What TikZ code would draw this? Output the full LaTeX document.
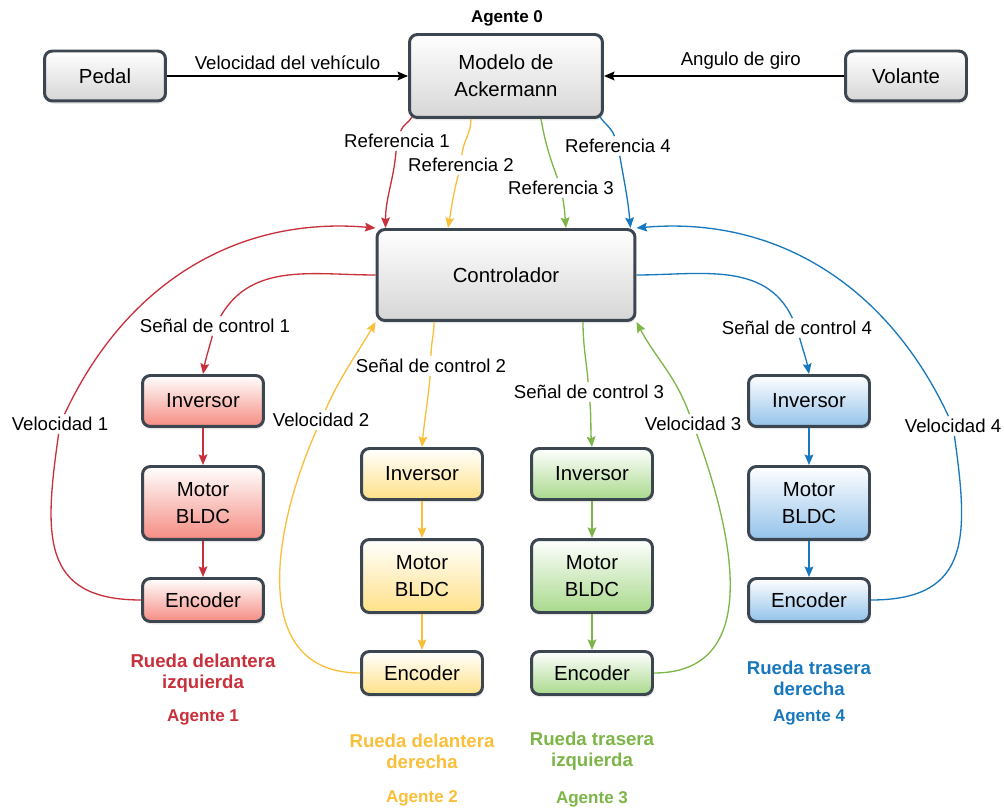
\documentclass[tikz,border=0pt]{standalone}
\usepackage{fontspec}
\setmainfont{Liberation Sans}
\usetikzlibrary{arrows.meta,calc,shadows}

\definecolor{boxborder}{HTML}{3C4651}
\definecolor{boxgray}{HTML}{D6D6D6}
\definecolor{wheelred}{HTML}{C8303C}
\definecolor{wheelyellow}{HTML}{F9BF3B}
\definecolor{wheelgreen}{HTML}{7DB548}
\definecolor{wheelblue}{HTML}{1878BE}
\definecolor{fillred}{HTML}{F58C82}
\definecolor{fillyellow}{HTML}{FFE188}
\definecolor{fillgreen}{HTML}{A9D98C}
\definecolor{fillblue}{HTML}{93C2EA}

\begin{document}
\begin{tikzpicture}[x=0.02cm,y=0.02cm]
  % Define styles for nodes
  \tikzstyle{box} = [draw=boxborder, rectangle, rounded corners=4.5pt,
  line width=1.7pt, minimum width=2.42cm, align=center,
  font=\fontsize{11.6}{15.3}\selectfont,
  drop shadow={opacity=0.18, shadow xshift=0.6pt, shadow yshift=-1.6pt}]
  \tikzstyle{graybox} = [box, top color=white, bottom color=boxgray]
  \tikzstyle{redbox} = [box, top color=white, bottom color=fillred]
  \tikzstyle{yellowbox} = [box, top color=white, bottom color=fillyellow]
  \tikzstyle{greenbox} = [box, top color=white, bottom color=fillgreen]
  \tikzstyle{bluebox} = [box, top color=white, bottom color=fillblue]
  \tikzstyle{inv} = [minimum height=1.02cm]
  \tikzstyle{motor} = [minimum height=1.46cm]
  \tikzstyle{enc} = [minimum height=0.86cm]
  \tikzstyle{edgetext} = [inner sep=1.5pt, font=\fontsize{10.6}{12}\selectfont]
  \tikzstyle{wheeltext} = [align=center, font=\bfseries\fontsize{10.6}{11.9}\selectfont]
  \tikzstyle{agenttext} = [font=\bfseries\fontsize{9.7}{11}\selectfont]
  \tikzstyle{flow} = [line width=0.75pt, -{Stealth[length=6pt,width=5pt,inset=1pt]}]

  \useasboundingbox (0,0) rectangle (1004,-810);

  % Top row
  \node[graybox, minimum height=1.0cm] (pedal) at (105,-76) {Pedal};
  \node[graybox, minimum width=3.86cm, minimum height=1.66cm] (modelo) at (506,-76) {Modelo de\\Ackermann};
  \node[graybox, minimum height=1.0cm] (volante) at (906,-76) {Volante};
  \node[agenttext] (agente0) at (507,-18) {Agente 0};

  % Controller
  \node[graybox, minimum width=5.16cm, minimum height=1.82cm] (ctrl) at (506,-275) {Controlador};

  % Front left wheel
  \node[redbox, inv] (inv1) at (203,-401) {Inversor};
  \node[redbox, motor] (mot1) at (203,-503) {Motor\\BLDC};
  \node[redbox, enc] (enc1) at (203,-600) {Encoder};
  \node[wheeltext, wheelred] (rueda1) at (203,-673) {Rueda delantera\\izquierda};
  \node[agenttext, wheelred] (agente1) at (203,-717) {Agente 1};

  % Front right wheel
  \node[yellowbox, inv] (inv2) at (422,-474) {Inversor};
  \node[yellowbox, motor] (mot2) at (422,-576) {Motor\\BLDC};
  \node[yellowbox, enc] (enc2) at (422,-673) {Encoder};
  \node[wheeltext, wheelyellow] (rueda2) at (422,-751) {Rueda delantera\\derecha};
  \node[agenttext, wheelyellow] (agente2) at (422,-798) {Agente 2};

  % Rear left wheel
  \node[greenbox, inv] (inv3) at (592,-474) {Inversor};
  \node[greenbox, motor] (mot3) at (592,-576) {Motor\\BLDC};
  \node[greenbox, enc] (enc3) at (592,-673) {Encoder};
  \node[wheeltext, wheelgreen] (rueda3) at (592,-751) {Rueda trasera\\izquierda};
  \node[agenttext, wheelgreen] (agente3) at (592,-799) {Agente 3};

  % Rear right wheel
  \node[bluebox, inv] (inv4) at (809,-401) {Inversor};
  \node[bluebox, motor] (mot4) at (809,-503) {Motor\\BLDC};
  \node[bluebox, enc] (enc4) at (809,-600) {Encoder};
  \node[wheeltext, wheelblue] (rueda4) at (809,-678) {Rueda trasera\\derecha};
  \node[agenttext, wheelblue] (agente4) at (809,-717) {Agente 4};

  % Edge labels
  \node[edgetext] (ref1) at (397,-141) {Referencia 1};
  \node[edgetext] (ref2) at (461,-165) {Referencia 2};
  \node[edgetext] (ref3) at (561,-188) {Referencia 3};
  \node[edgetext] (ref4) at (618,-146) {Referencia 4};
  \node[edgetext] (sen1) at (215,-326) {Señal de control 1};
  \node[edgetext] (sen2) at (431,-366) {Señal de control 2};
  \node[edgetext] (sen3) at (589,-392) {Señal de control 3};
  \node[edgetext] (sen4) at (797,-328) {Señal de control 4};
  \node[edgetext] (vel1) at (60,-424) {Velocidad 1};
  \node[edgetext] (vel2) at (321,-420) {Velocidad 2};
  \node[edgetext] (vel3) at (693,-424) {Velocidad 3};
  \node[edgetext] (vel4) at (953,-426) {Velocidad 4};

  % Inputs of the Ackermann model
  \draw[flow] (pedal) -- node[edgetext, above=2pt] {Velocidad del vehículo} (modelo);
  \draw[flow] (volante) -- node[edgetext, above=2pt, pos=0.43] {Angulo de giro} (modelo);

  % References
  \draw[flow, wheelred] ($(modelo.south west)+(4,2)$) to[out=-120,in=70] (ref1)
    to[out=-95,in=90] ($(ctrl.north west)+(10,0)$);
  \draw[flow, wheelyellow] ($(modelo.south)+(-35,0)$) to[out=-90,in=85] (ref2)
    to[out=-105,in=80] ($(ctrl.north)+(-58,0)$);
  \draw[flow, wheelgreen] ($(modelo.south)+(35,0)$) to[out=-80,in=110] (ref3)
    to[out=-80,in=95] ($(ctrl.north)+(60,0)$);
  \draw[flow, wheelblue] ($(modelo.south east)+(-4,2)$) to[out=-55,in=110] (ref4)
    to[out=-80,in=95] ($(ctrl.north east)+(-6,0)$);

  % Control signals
  \draw[flow, wheelred] (ctrl.west) to[out=180,in=60] (sen1) to[out=-105,in=80] (inv1.north);
  \draw[flow, wheelyellow] ($(ctrl.south)+(-72,0)$) to[out=-90,in=90] (sen2)
    to[out=-95,in=85] (inv2.north);
  \draw[flow, wheelgreen] ($(ctrl.south)+(77,0)$) to[out=-90,in=95] (sen3)
    to[out=-85,in=95] (inv3.north);
  \draw[flow, wheelblue] (ctrl.east) to[out=0,in=115] (sen4) to[out=-75,in=100] (inv4.north);

  % Wheel chains
  \draw[flow, wheelred] (inv1) -- (mot1);
  \draw[flow, wheelred] (mot1) -- (enc1);
  \draw[flow, wheelyellow] (inv2) -- (mot2);
  \draw[flow, wheelyellow] (mot2) -- (enc2);
  \draw[flow, wheelgreen] (inv3) -- (mot3);
  \draw[flow, wheelgreen] (mot3) -- (enc3);
  \draw[flow, wheelblue] (inv4) -- (mot4);
  \draw[flow, wheelblue] (mot4) -- (enc4);

  % Speed feedback
  \draw[flow, wheelred] (enc1.west) to[out=180,in=-98,looseness=1.4] (vel1)
    to[out=65,in=175] (ctrl.north west);
  \draw[flow, wheelyellow] (enc2.west) to[out=180,in=-114,looseness=1.15] (vel2)
    to[out=66,in=-120] (ctrl.south west);
  \draw[flow, wheelgreen] (enc3.east) to[out=0,in=-70,looseness=1.15] (vel3)
    to[out=110,in=-62] (ctrl.south east);
  \draw[flow, wheelblue] (enc4.east) to[out=0,in=-82,looseness=1.4] (vel4)
    to[out=115,in=5] (ctrl.north east);
\end{tikzpicture}
\end{document}
